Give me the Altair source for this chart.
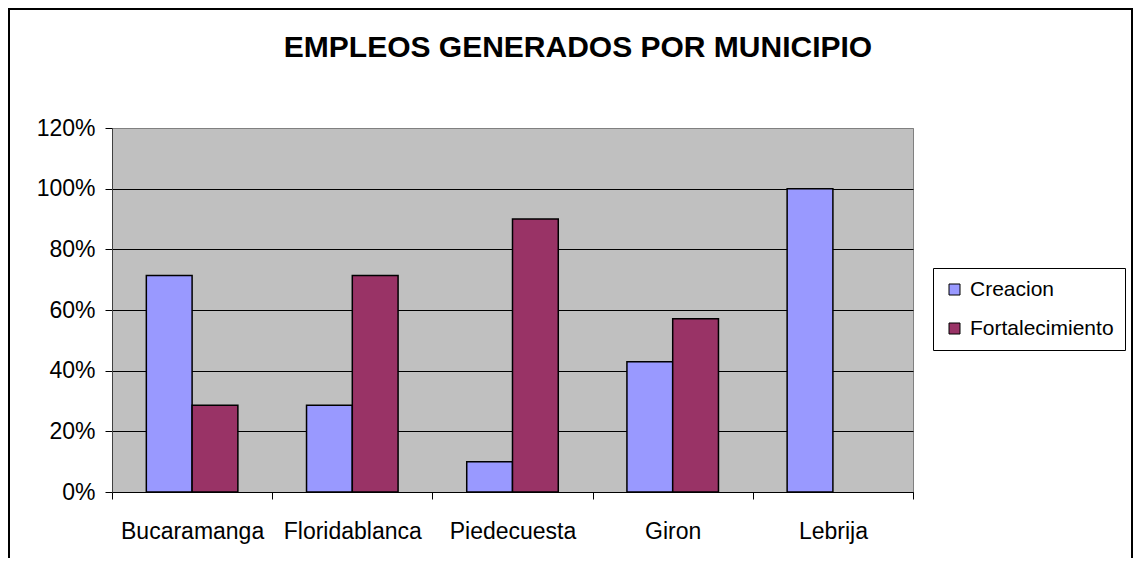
import altair as alt
import pandas as pd

municipios = ["Bucaramanga", "Floridablanca", "Piedecuesta", "Giron", "Lebrija"]
creacion = [0.714, 0.286, 0.10, 0.429, 1.0]
fortalecimiento = [0.286, 0.714, 0.90, 0.571, 0.0]
series = ["Creacion", "Fortalecimiento"]
colors = ["#9999FF", "#993366"]
y_ticks = [0, 0.2, 0.4, 0.6, 0.8, 1.0, 1.2]
titulo = "EMPLEOS GENERADOS POR MUNICIPIO"

rows = []
for m, c, f in zip(municipios, creacion, fortalecimiento):
    rows.append({"municipio": m, "serie": series[0], "valor": c})
    rows.append({"municipio": m, "serie": series[1], "valor": f})
df = pd.DataFrame(rows)

FONT = "Liberation Sans"

bars = alt.Chart(df).transform_filter("datum.valor > 0").mark_bar(
    stroke="black", strokeWidth=1.5
).encode(
    x=alt.X("municipio:N", sort=municipios, title=None,
            scale=alt.Scale(domain=municipios, paddingInner=0, paddingOuter=0),
            axis=alt.Axis(labelAngle=0, tickBand="extent", grid=False,
                          domainColor="black", tickColor="black", tickSize=7,
                          labelPadding=21, labelFontSize=23, labelFont=FONT,
                          labelColor="black")),
    xOffset=alt.XOffset("serie:N", sort=series,
                        scale=alt.Scale(domain=series, paddingInner=0, paddingOuter=0.75)),
    y=alt.Y("valor:Q", title=None,
            scale=alt.Scale(domain=[0, 1.2], nice=False),
            axis=alt.Axis(values=y_ticks, format=".0%", grid=True,
                          gridColor={"condition": {"test": "datum.value >= 1.19", "value": "#808080"},
                                     "value": "#000000"},
                          gridWidth=1, domainColor="#404040", tickColor="black",
                          tickSize=7, labelPadding=10, labelFontSize=23,
                          labelFont=FONT, labelColor="black")),
    color=alt.Color("serie:N", sort=series, title=None,
                    scale=alt.Scale(domain=series, range=colors),
                    legend=alt.Legend(orient="none", legendX=821, legendY=140,
                                      strokeColor="black", fillColor="white",
                                      padding=11, rowPadding=17, symbolType="square",
                                      symbolSize=121, symbolStrokeColor="black",
                                      symbolStrokeWidth=1, symbolOpacity=1,
                                      labelFontSize=21, labelFont=FONT,
                                      labelColor="black", labelOffset=5,
                                      labelLimit=300)),
)

frame = alt.Chart(alt.Data(values=[{}])).mark_rect(
    fill=None, stroke="black", strokeWidth=2
).encode(
    x=alt.value(-103), x2=alt.value(1020),
    y=alt.value(-119), y2=alt.value(470),
)

title = alt.Chart(alt.Data(values=[{"t": titulo}])).mark_text(
    font=FONT, fontSize=30, fontWeight="bold", color="black",
    align="center", baseline="alphabetic"
).encode(
    text="t:N", x=alt.value(466), y=alt.value(-71),
)

chart = alt.layer(bars, frame, title).properties(
    width=801, height=364,
    autosize=alt.AutoSizeParams(type="none"),
    padding={"left": 104, "top": 120, "right": 221, "bottom": 66},
    background="white",
).configure_view(
    fill="#C0C0C0", stroke="#808080", strokeWidth=1
)

chart.save("out.html", embed_options={"renderer": "svg", "actions": False})
